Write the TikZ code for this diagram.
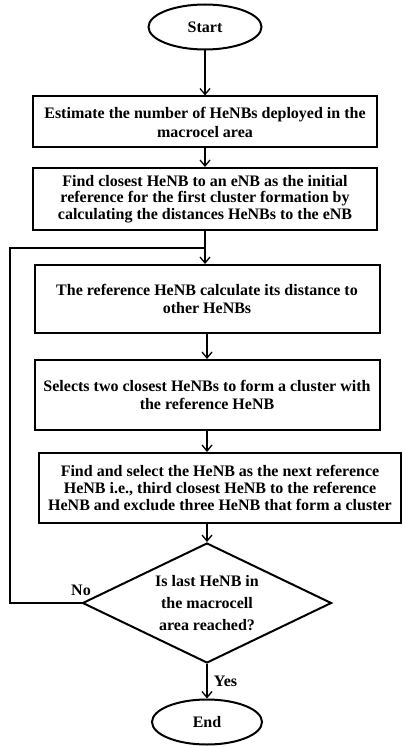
\documentclass[tikz,border=0pt]{standalone}
\usepackage{fontspec}
\setmainfont{Liberation Serif}
\usetikzlibrary{shapes.geometric,arrows.meta}
\tikzset{
    procbox/.style={draw,line width=2pt,align=center,inner sep=2pt,
        font=\fontsize{16}{18}\selectfont\bfseries},
    termnode/.style={ellipse,draw,line width=2pt,inner sep=0pt,
        font=\fontsize{16}{18}\selectfont\bfseries},
    decnode/.style={diamond,draw,line width=2pt,inner sep=0pt,align=center,
        shape aspect=2,font=\fontsize{16}{18}\selectfont\bfseries},
    flow/.style={line width=1.3pt,-{Straight Barb[length=6pt,width=10pt]}},
    lbl/.style={font=\fontsize{16}{18}\selectfont\bfseries}
}
\begin{document}
\begin{tikzpicture}[x=1pt,y=-1pt]
    \useasboundingbox (0,0) rectangle (402,746);
    \node[termnode,minimum width=113pt,minimum height=45pt] (start) at (205,27) {Start};
    \node[procbox,minimum width=344pt,minimum height=51pt] (est) at (205,122)
        {Estimate the number of HeNBs deployed in the\\[1pt]macrocel area};
    \node[procbox,minimum width=344pt,minimum height=62pt] (closest) at (205,199)
        {Find closest HeNB to an eNB as the initial\\[-1.3pt]reference for the first cluster formation by\\[-1.3pt]calculating the distances HeNBs to the eNB};
    \node[procbox,minimum width=345pt,minimum height=68pt] (calc) at (207,299)
        {The reference HeNB calculate its distance to\\other HeNBs};
    \node[procbox,minimum width=345pt,minimum height=70pt] (select) at (207,395)
        {Selects two closest HeNBs to form a cluster with\\the reference HeNB};
    \node[procbox,minimum width=362pt,minimum height=70pt] (next) at (220,488)
        {Find and select the HeNB as the next reference\\[-1pt]HeNB i.e., third closest HeNB to the reference\\[-1pt]HeNB and exclude three HeNB that form a cluster};
    \node[decnode,minimum width=249pt,minimum height=120pt] (last) at (207,603)
        {Is last HeNB in\\[4pt]the macrocell\\[4pt]area reached?};
    \node[termnode,minimum width=110pt,minimum height=45pt] (end) at (207,722) {End};
    \coordinate (join) at (205,248);
    \draw[flow] (start) -- (est);
    \draw[flow] (est) -- (closest);
    \draw[flow] (closest.south) -- (calc.north -| closest.south);
    \draw[flow] (calc.south) -- (select.north);
    \draw[flow] (select.south) -- (select.south |- next.north);
    \draw[flow] (next.south -| last.north) -- (last.north);
    \draw[flow] (last.south) -- node[lbl,right=3pt] {Yes} (end.north);
    \draw[line width=1.1pt] (last.west) -- (10,603) |- (join);
    \node[lbl] (no) at (81,590) {No};
\end{tikzpicture}
\end{document}
